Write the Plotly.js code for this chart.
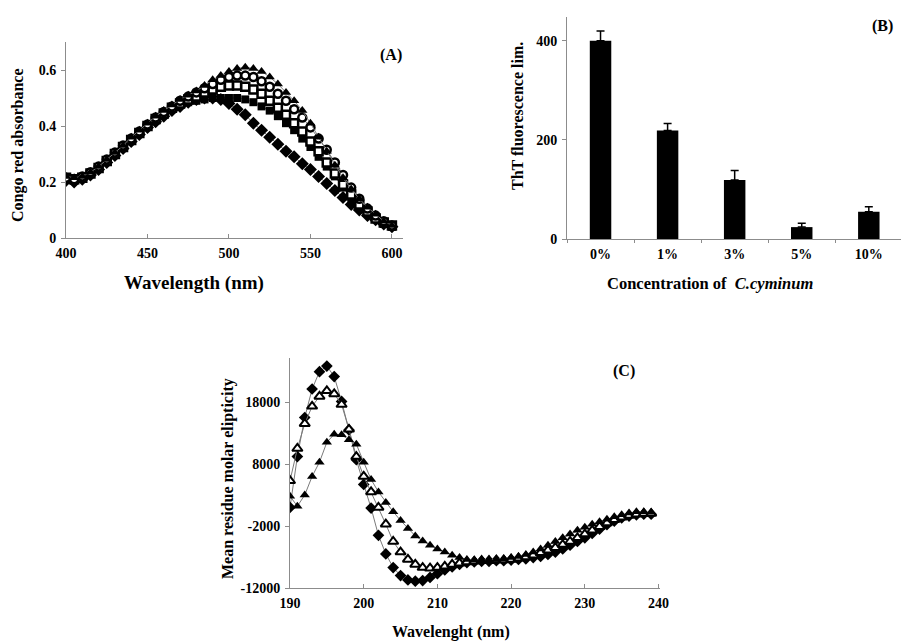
<!DOCTYPE html>
<html>
<head>
<meta charset="utf-8">
<script src="https://cdn.plot.ly/plotly-3.0.1.min.js"></script>
<style>html,body{margin:0;padding:0;background:#fff;}#chart{width:901px;height:642px;}</style>
</head>
<body>
<div id="chart"></div>
<script>
// ---------- Panel A: Congo red absorbance ----------
const wavelengthA = [400,405,410,415,420,425,430,435,440,445,450,455,460,465,470,475,480,485,490,495,500,505,510,515,520,525,530,535,540,545,550,555,560,565,570,575,580,585,590,595,600];
const crDiamond = [.205,.20,.21,.225,.245,.27,.295,.32,.345,.37,.395,.415,.435,.455,.47,.485,.495,.50,.50,.495,.48,.46,.44,.41,.385,.36,.335,.31,.29,.265,.245,.22,.195,.17,.145,.12,.10,.08,.065,.05,.04];
const crSquare = [.21,.205,.215,.23,.25,.275,.30,.325,.35,.375,.40,.42,.44,.46,.475,.485,.49,.495,.50,.50,.50,.50,.495,.485,.47,.455,.435,.41,.385,.355,.325,.29,.255,.22,.18,.145,.115,.09,.07,.05,.04];
const crSquareOpen = [.215,.21,.215,.23,.25,.275,.30,.325,.35,.375,.40,.425,.445,.465,.48,.495,.505,.52,.53,.54,.545,.545,.54,.53,.515,.49,.465,.44,.41,.38,.345,.31,.27,.23,.19,.155,.12,.095,.07,.055,.045];
const crCircleOpen = [.215,.21,.22,.235,.255,.28,.305,.33,.355,.38,.405,.43,.45,.47,.49,.505,.52,.535,.55,.565,.575,.58,.58,.575,.56,.54,.515,.49,.46,.43,.395,.355,.315,.27,.225,.18,.14,.105,.08,.06,.045];
const crTriangle = [.22,.215,.22,.235,.255,.28,.305,.33,.36,.385,.41,.435,.455,.475,.495,.51,.525,.545,.565,.58,.595,.605,.61,.605,.595,.575,.55,.52,.49,.455,.41,.36,.31,.26,.215,.175,.14,.11,.085,.06,.045];
const aTickVals = [0,0.2,0.4,0.6];
const aTickText = ['0','0.2','0.4','0.6'];

// ---------- Panel B: ThT fluorescence ----------
const concentrations = ['0%','1%','3%','5%','10%'];
const thtValues = [400,219,119,24,55];
const thtErrors = [20,14,19,8,10];
const thtErrorsDown = [0,0,0,0,0];

// ---------- Panel C: CD spectra ----------
const wavelengthC = [190,191,192,193,194,195,196,197,198,199,200,201,202,203,204,205,206,207,208,209,210,211,212,213,214,215,216,217,218,219,220,221,222,223,224,225,226,227,228,229,230,231,232,233,234,235,236,237,238,239];
const cdDiamond = [1000,9200,15500,20100,22900,23800,22100,18100,13500,8700,4700,900,-3500,-6500,-8700,-10000,-10700,-10900,-10800,-10300,-9700,-9100,-8600,-8200,-7900,-7800,-7700,-7700,-7600,-7600,-7500,-7400,-7300,-7100,-6900,-6600,-6200,-5700,-5100,-4500,-3900,-3200,-2500,-1800,-1200,-700,-400,-200,-100,-100];
const cdTriangleOpen = [5300,10500,14500,17300,18900,19800,19300,17600,13600,9200,6000,3500,1000,-1700,-4500,-6200,-7400,-8200,-8700,-8800,-8700,-8500,-8200,-8000,-7800,-7700,-7600,-7600,-7500,-7500,-7400,-7200,-7000,-6700,-6300,-5900,-5500,-5000,-4500,-3900,-3300,-2700,-2100,-1500,-1000,-600,-300,-100,0,0];
const cdTriangle = [2800,1200,3000,6000,8300,11500,12800,12700,11900,11200,8300,5500,3500,1800,300,-1100,-2400,-3600,-4400,-5100,-5700,-6200,-6700,-7100,-7400,-7500,-7500,-7500,-7400,-7300,-7100,-6900,-6600,-6200,-5700,-5100,-4500,-3900,-3300,-2700,-2200,-1700,-1300,-900,-500,-200,100,300,300,200];
const cTickVals = [-12000,-2000,8000,18000];
const cTickText = ['-12000','-2000','8000','18000'];

// ---------- helpers ----------
const W = 901, H = 642;
const px = v => v / W;
const py = v => 1 - v / H;
const FONT = 'Liberation Serif';
const lineStyle = {color: '#7a7a7a', width: 1};

function marker(symbol, size, lw) {
  const open = symbol.indexOf('-open') >= 0;
  return {symbol: open ? symbol.replace('-open', '') : symbol, size: size,
          color: open ? '#ffffff' : '#000000', line: {color: '#000000', width: open ? lw : 0}};
}
function seriesA(y, symbol, size) {
  return {x: wavelengthA, y: y, xaxis: 'x', yaxis: 'y', type: 'scatter', mode: 'lines+markers',
    line: lineStyle, marker: marker(symbol, size, 2.5)};
}
function seriesC(y, symbol, size) {
  return {x: wavelengthC, y: y, xaxis: 'x3', yaxis: 'y3', type: 'scatter', mode: 'lines+markers',
    line: lineStyle, marker: marker(symbol, size, 2)};
}

const traces = [
  seriesA(crDiamond, 'diamond', 10),
  seriesA(crSquare, 'square', 8),
  seriesA(crSquareOpen, 'square-open', 8),
  seriesA(crCircleOpen, 'circle-open', 8),
  seriesA(crTriangle, 'triangle-up', 9),
  {x: concentrations, y: thtValues, xaxis: 'x2', yaxis: 'y2', type: 'bar', width: 0.32,
   marker: {color: '#000000', line: {color: '#000000', width: 0}},
   error_y: {type: 'data', symmetric: false, array: thtErrors, arrayminus: thtErrorsDown,
             color: '#000000', thickness: 1.5, width: 4}},
  seriesC(cdDiamond, 'diamond', 9),
  seriesC(cdTriangleOpen, 'triangle-up-open', 9),
  seriesC(cdTriangle, 'triangle-up', 9)
];

const tickFont = {family: FONT, size: 14, color: '#000', weight: 'bold'};
const axisCommon = {showgrid: false, zeroline: false, showline: true, linecolor: '#8c8c8c', linewidth: 1,
  ticklen: 4, tickcolor: '#8c8c8c', tickfont: tickFont, fixedrange: true, ticklabelstandoff: 2};

function label(text, x, y, size, angle) {
  return {text: text, x: px(x), y: py(y), xref: 'paper', yref: 'paper', showarrow: false,
    xanchor: 'center', yanchor: 'middle', textangle: angle || 0,
    font: {family: FONT, size: size, color: '#000', weight: 'bold'}};
}

const layout = {
  width: W, height: H, margin: {l: 0, r: 0, t: 0, b: 0}, paper_bgcolor: '#fff', plot_bgcolor: 'rgba(0,0,0,0)',
  font: {family: FONT, color: '#000', weight: 'bold'},
  showlegend: false,
  xaxis: Object.assign({}, axisCommon, {domain: [px(66), px(403)], range: [400, 606.8], anchor: 'y',
    tickvals: [400,450,500,550,600], ticks: 'inside'}),
  yaxis: Object.assign({}, axisCommon, {domain: [py(238), py(42)], range: [0, 0.7], anchor: 'x',
    tickvals: aTickVals, ticktext: aTickText, ticks: 'outside'}),
  xaxis2: Object.assign({}, axisCommon, {domain: [px(567), 1], type: 'category', range: [-0.5, 4.48], anchor: 'y2',
    tickson: 'boundaries', ticks: 'outside', ticklen: 3}),
  yaxis2: Object.assign({}, axisCommon, {domain: [py(239), py(17)], range: [0, 448], anchor: 'x2',
    tickvals: [0,200,400], ticktext: ['0','200','400'], ticks: 'outside'}),
  xaxis3: Object.assign({}, axisCommon, {domain: [px(290), px(660)], range: [190, 240.2], anchor: 'y3',
    tickvals: [190,200,210,220,230,240], ticks: 'inside'}),
  yaxis3: Object.assign({}, axisCommon, {domain: [py(588), py(358)], range: [-12000, 25100], anchor: 'x3',
    tickvals: cTickVals, ticktext: cTickText, ticks: 'outside'}),
  annotations: [
    label('Wavelength (nm)', 194, 283, 19),
    label('Congo red absorbance', 18, 145, 16, -90),
    label('(A)', 391, 55, 16),
    label('Concentration of  <i>C.cyminum</i>', 710, 283, 16.5),
    label('ThT fluorescence lim.', 517, 116, 16, -90),
    label('(B)', 882, 26, 16),
    label('Wavelenght (nm)', 451, 632, 16),
    label('Mean residue molar elipticity', 228, 478, 16, -90),
    label('(C)', 624, 371, 16)
  ]
};

Plotly.newPlot('chart', traces, layout, {displayModeBar: false, staticPlot: true});
</script>
</body>
</html>
